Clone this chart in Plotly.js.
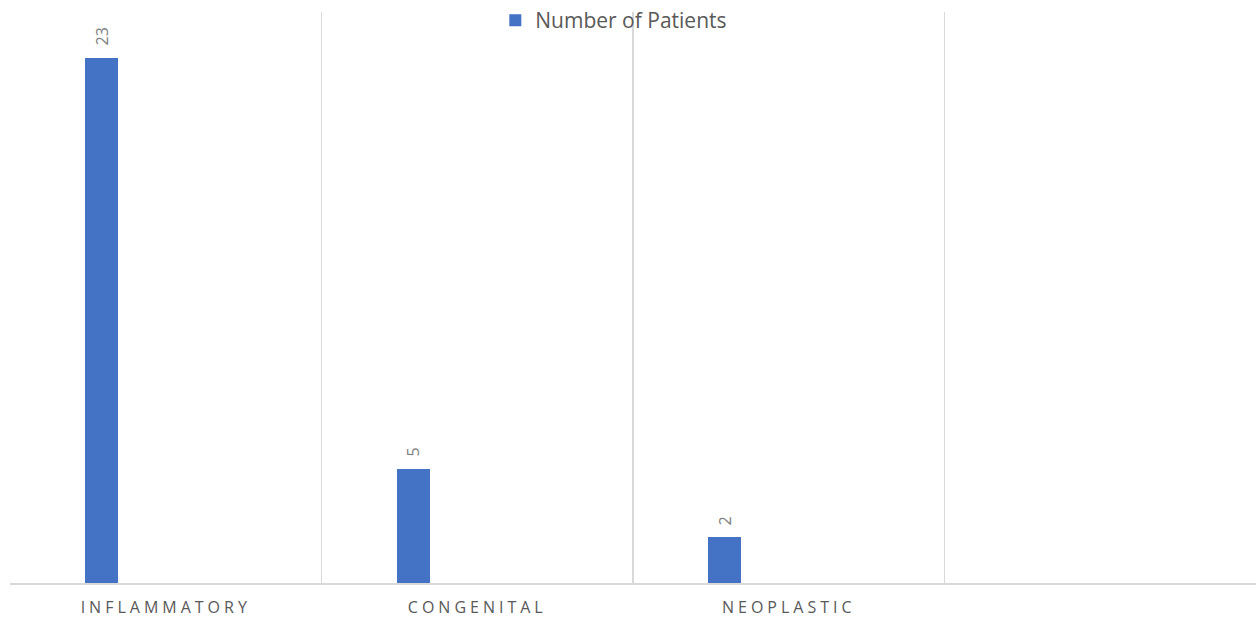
<!DOCTYPE html>
<html>
<head>
<meta charset="utf-8">
<script src="https://cdn.plot.ly/plotly-3.0.1.min.js"></script>
<style>
  html, body { margin: 0; padding: 0; background: #fff; }
  #chart { width: 1256px; height: 620px; }
  .xtick text { letter-spacing: 4px; }
</style>
</head>
<body>
<div id="chart"></div>
<script>
const categories = ['INFLAMMATORY', 'CONGENITAL', 'NEOPLASTIC'];
const slots = ['INFLAMMATORY', 'CONGENITAL', 'NEOPLASTIC', ' '];
const patients = [23, 5, 2];
const seriesName = 'Number of Patients';

const trace = {
  type: 'bar',
  name: seriesName,
  x: categories,
  y: patients,
  width: 0.106,
  offset: -0.258,
  marker: { color: '#4472C4' },
  hoverinfo: 'x+y'
};

const labels = categories.map((c, i) => ({
  x: c,
  y: patients[i],
  xref: 'x',
  yref: 'y',
  text: String(patients[i]),
  showarrow: false,
  textangle: -90,
  xanchor: 'center',
  yanchor: 'bottom',
  xshift: -64,
  yshift: 10,
  font: { family: 'Open Sans, sans-serif', size: 16, color: '#7f7f7f' }
}));

const layout = {
  width: 1256,
  height: 620,
  margin: { l: 10, r: 0, t: 10, b: 37 },
  paper_bgcolor: '#ffffff',
  plot_bgcolor: '#ffffff',
  showlegend: true,
  legend: {
    orientation: 'h',
    x: 0.4846, xanchor: 'center',
    y: 0.985, yanchor: 'middle',
    font: { family: 'Open Sans, sans-serif', size: 21, color: '#595959' },
    bgcolor: 'rgba(0,0,0,0)',
    itemwidth: 30
  },
  annotations: labels,
  xaxis: {
    type: 'category',
    categoryorder: 'array',
    categoryarray: slots,
    range: [-0.5, 3.5],
    tickson: 'boundaries',
    showgrid: true,
    gridcolor: '#d9d9d9',
    gridwidth: 1.5,
    ticks: '',
    ticklabelstandoff: 9,
    showline: true,
    linecolor: '#d9d9d9',
    linewidth: 1.5,
    zeroline: false,
    tickfont: { family: 'Open Sans, sans-serif', size: 16, color: '#595959' },
    automargin: false
  },
  yaxis: {
    range: [0, 25],
    showgrid: false,
    showticklabels: false,
    zeroline: false,
    showline: false,
    ticks: ''
  },
  bargap: 0
};

Plotly.newPlot('chart', [trace], layout, { displayModeBar: false, staticPlot: true });
</script>
</body>
</html>
